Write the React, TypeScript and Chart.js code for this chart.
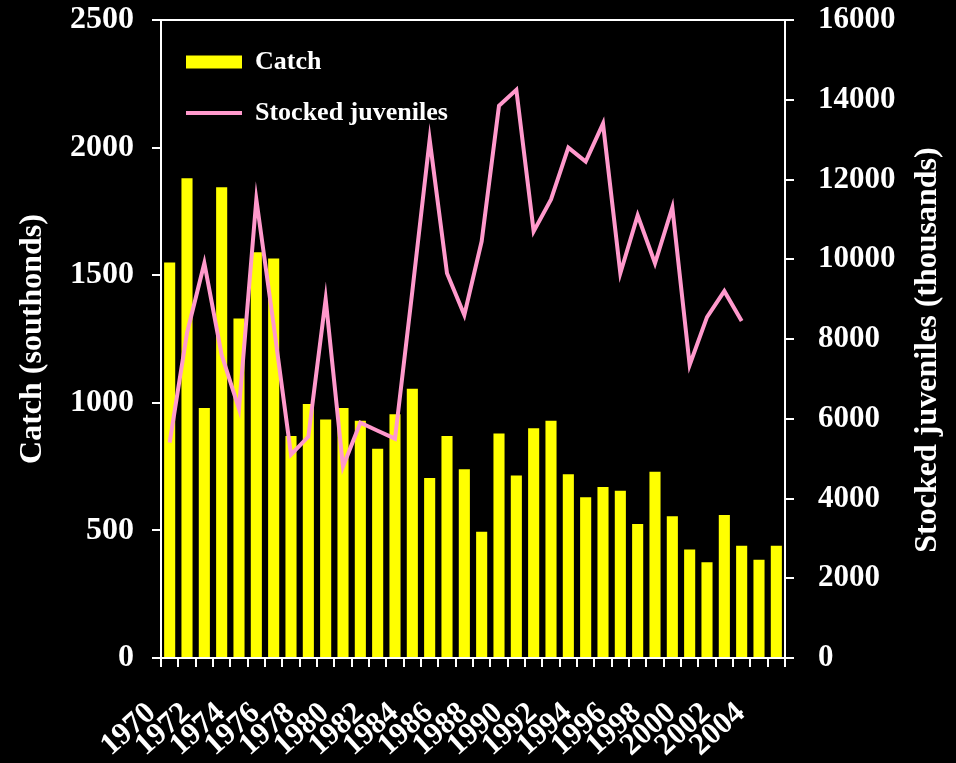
import React, { useEffect, useRef } from 'react';
import { Chart, registerables } from 'chart.js';

Chart.register(...registerables);

const years = [
  '1970', '1971', '1972', '1973', '1974', '1975', '1976', '1977', '1978', '1979',
  '1980', '1981', '1982', '1983', '1984', '1985', '1986', '1987', '1988', '1989',
  '1990', '1991', '1992', '1993', '1994', '1995', '1996', '1997', '1998', '1999',
  '2000', '2001', '2002', '2003', '2004', '2005',
];

const catchValues = [
  1550, 1880, 980, 1845, 1330, 1590, 1565, 870, 995, 935,
  980, 930, 820, 955, 1055, 705, 870, 740, 495, 880,
  715, 900, 930, 720, 630, 670, 655, 525, 730, 555,
  425, 375, 560, 440, 385, 440,
];

const stockedValues = [
  5400, 8150, 9900, 7600, 6250, 11500, 8350, 5100, 5550, 9000,
  4800, 5900, 5700, 5500, 9200, 13000, 9650, 8600, 10450, 13850,
  14250, 10700, 11500, 12800, 12450, 13400, 9650, 11100, 9900, 11300,
  7350, 8550, 9200, 8450, null, null,
];

const catchLabel = 'Catch';
const stockedLabel = 'Stocked juveniles';
const leftTitle = 'Catch (southonds)';
const rightTitle = 'Stocked juveniles (thousands)';

const FAMILY = '"Liberation Serif", "Times New Roman", serif';
const YELLOW = '#FFFF00';
const PINK = '#FF99CC';

const rightTitlePlugin = {
  id: 'rightTitle',
  afterDraw(chart: any) {
    const { ctx, chartArea } = chart;
    const y1 = chart.scales.y1;
    ctx.save();
    ctx.translate(y1.right - 28, (chartArea.top + chartArea.bottom) / 2 + 11);
    ctx.rotate(-Math.PI / 2);
    ctx.font = `bold 32px ${FAMILY}`;
    ctx.fillStyle = '#ffffff';
    ctx.textAlign = 'center';
    ctx.textBaseline = 'middle';
    ctx.fillText(rightTitle, 0, 0);
    ctx.restore();
  },
};

export default function App() {
  const canvasRef = useRef<HTMLCanvasElement | null>(null);

  useEffect(() => {
    if (!canvasRef.current) return;
    const chart = new Chart(canvasRef.current, {
      type: 'bar',
      data: {
        labels: years,
        datasets: [
          {
            type: 'bar',
            label: catchLabel,
            data: catchValues,
            backgroundColor: YELLOW,
            borderWidth: 0,
            categoryPercentage: 1,
            barPercentage: 0.64,
            yAxisID: 'y',
            order: 1,
          },
          {
            type: 'line',
            label: stockedLabel,
            data: stockedValues,
            borderColor: PINK,
            backgroundColor: PINK,
            borderWidth: 4,
            pointRadius: 0,
            tension: 0,
            spanGaps: false,
            yAxisID: 'y1',
            order: 0,
          } as any,
        ],
      },
      options: {
        animation: false,
        responsive: true,
        maintainAspectRatio: false,
        layout: { padding: { top: 20, left: 0, right: 0, bottom: 0 } },
        plugins: {
          tooltip: { enabled: false },
          legend: {
            position: 'chartArea' as any,
            align: 'start',
            title: {
              display: true,
              text: ' ',
              font: { family: FAMILY, size: 20 },
              padding: 0,
            },
            labels: {
              color: '#ffffff',
              font: { family: FAMILY, size: 26, weight: 'bold' },
              usePointStyle: true,
              pointStyleWidth: 56,
              boxHeight: 13,
              padding: 25,
              sort: (a: any, b: any) => a.datasetIndex - b.datasetIndex,
              generateLabels: (chart: any) => {
                const items = Chart.defaults.plugins.legend.labels.generateLabels(chart);
                return items.map((it: any) => {
                  if (it.datasetIndex === 0) {
                    return { ...it, pointStyle: 'rect', fillStyle: YELLOW, strokeStyle: YELLOW, lineWidth: 0, fontColor: '#ffffff' };
                  }
                  return { ...it, pointStyle: 'line', strokeStyle: PINK, fillStyle: PINK, lineWidth: 4, fontColor: '#ffffff' };
                });
              },
            },
          },
        },
        scales: {
          x: {
            offset: true,
            afterFit: (scale: any) => { scale.height = 105; },
            grid: {
              offset: true,
              drawOnChartArea: false,
              color: '#ffffff',
              tickColor: '#ffffff',
              tickLength: 9,
              lineWidth: 2,
            },
            border: { color: '#ffffff', width: 2 },
            ticks: {
              autoSkip: false,
              minRotation: 42,
              maxRotation: 42,
              padding: 28,
              labelOffset: -18,
              color: '#ffffff',
              font: { family: FAMILY, size: 31, weight: 'bold' },
              callback: (_v: any, i: number) => (i % 2 === 0 ? years[i] : ''),
            },
          },
          y: {
            position: 'left',
            min: 0,
            max: 2500,
            afterFit: (scale: any) => {
              scale.width = 161;
              scale.paddingTop = 0;
              scale.paddingBottom = 0;
            },
            grid: {
              drawOnChartArea: true,
              color: (c: any) => (c.tick && c.tick.value === 2500 ? '#ffffff' : 'rgba(0,0,0,0)'),
              tickColor: '#ffffff',
              tickLength: 9,
              lineWidth: 2,
            },
            border: { color: '#ffffff', width: 2 },
            ticks: {
              stepSize: 500,
              padding: 18,
              color: '#ffffff',
              font: { family: FAMILY, size: 32, weight: 'bold' },
              callback: (v: any) => String(v),
            },
            title: {
              display: true,
              text: leftTitle,
              color: '#ffffff',
              font: { family: FAMILY, size: 32, weight: 'bold' },
              padding: { top: 14, bottom: 0 },
            },
          },
          y1: {
            position: 'right',
            min: 0,
            max: 16000,
            afterFit: (scale: any) => {
              scale.width = 171;
              scale.paddingTop = 0;
              scale.paddingBottom = 0;
            },
            grid: {
              drawOnChartArea: false,
              color: '#ffffff',
              tickColor: '#ffffff',
              tickLength: 9,
              lineWidth: 2,
            },
            border: { color: '#ffffff', width: 2 },
            ticks: {
              stepSize: 2000,
              padding: 24,
              color: '#ffffff',
              font: { family: FAMILY, size: 31, weight: 'bold' },
              callback: (v: any) => String(v),
            },
          },
        },
      },
      plugins: [rightTitlePlugin],
    });
    return () => chart.destroy();
  }, []);

  return (
    <div
      style={{
        position: 'fixed',
        left: 0,
        top: 0,
        width: 956,
        height: 763,
        background: '#000000',
      }}
    >
      <canvas ref={canvasRef} />
    </div>
  );
}
